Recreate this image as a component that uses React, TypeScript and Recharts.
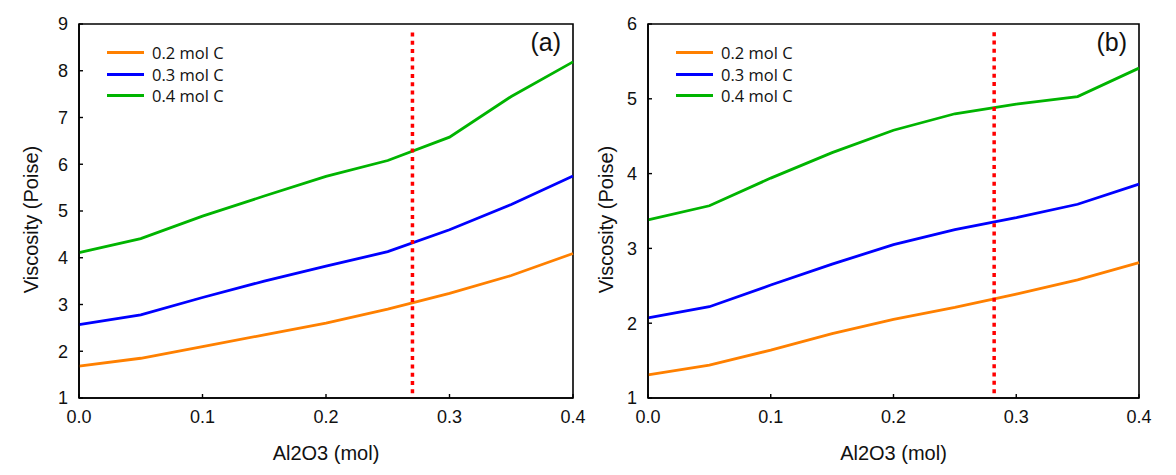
import React from 'react';
import {
  LineChart,
  Line,
  XAxis,
  YAxis,
  ReferenceLine,
  ReferenceArea,
  Legend,
} from 'recharts';

// Al2O3 content (mol), shared by both panels
const alumina = [0, 0.05, 0.1, 0.15, 0.2, 0.25, 0.3, 0.35, 0.4];
const xTicks = [0, 0.1, 0.2, 0.3, 0.4];
const seriesNames = ['0.2 mol C', '0.3 mol C', '0.4 mol C'];

// panel (a)
const aLow = [1.68, 1.85, 2.1, 2.35, 2.6, 2.9, 3.24, 3.62, 4.09];
const aMid = [2.57, 2.78, 3.15, 3.5, 3.82, 4.13, 4.6, 5.14, 5.75];
const aHigh = [4.11, 4.41, 4.89, 5.32, 5.74, 6.08, 6.58, 7.45, 8.19];
const aYTicks = [1, 2, 3, 4, 5, 6, 7, 8, 9];
const aMarker = { x: 0.27, top: 8.82 };

// panel (b)
const bLow = [1.31, 1.44, 1.64, 1.86, 2.05, 2.21, 2.39, 2.58, 2.81];
const bMid = [2.07, 2.22, 2.51, 2.79, 3.05, 3.25, 3.41, 3.59, 3.86];
const bHigh = [3.38, 3.57, 3.94, 4.28, 4.58, 4.8, 4.93, 5.03, 5.41];
const bYTicks = [1, 2, 3, 4, 5, 6];
const bMarker = { x: 0.282, top: 5.89 };

const colors = ['#ff8000', '#0000ff', '#00b400'];
const axisFont = '"Liberation Sans", Arial, sans-serif';
const legendFont = '"Open Sans", "Noto Sans", sans-serif';

function buildRows(low: number[], mid: number[], high: number[]) {
  return alumina.map((x, i) => ({ x, low: low[i], mid: mid[i], high: high[i] }));
}

function LegendBox() {
  return (
    <div style={{ fontFamily: legendFont, fontSize: 16.5, color: '#111' }}>
      {seriesNames.map((name, i) => (
        <div key={name} style={{ display: 'flex', alignItems: 'center', height: 21.5 }}>
          <div style={{ width: 37, height: 3, background: colors[i], marginRight: 8 }} />
          <span>{name}</span>
        </div>
      ))}
    </div>
  );
}

interface PanelProps {
  left: number;
  width: number;
  plotLeft: number;
  plotRight: number;
  rows: { x: number; low: number; mid: number; high: number }[];
  yTicks: number[];
  marker: { x: number; top: number };
  tag: string;
  yLabelX: number;
}

function Panel({ left, width, plotLeft, plotRight, rows, yTicks, marker, tag, yLabelX }: PanelProps) {
  const yMin = yTicks[0];
  const yMax = yTicks[yTicks.length - 1];
  const plotTop = 24;
  const plotBottom = 398;
  const tickStyle = { fontFamily: axisFont, fontSize: 18, fill: '#111' };
  return (
    <div style={{ position: 'absolute', left, top: 0, width, height: 475 }}>
      <LineChart
        width={width}
        height={475}
        data={rows}
        margin={{ top: plotTop, right: width - plotRight, bottom: 475 - plotBottom - 30, left: plotLeft - 40 }}
      >
        <XAxis
          dataKey="x"
          type="number"
          domain={[0, 0.4]}
          ticks={xTicks}
          tickFormatter={(v: number) => v.toFixed(1)}
          height={30}
          tickSize={-4}
          tickMargin={16}
          tick={tickStyle}
          axisLine={{ stroke: '#000', strokeWidth: 1.6 }}
          tickLine={{ stroke: '#000', strokeWidth: 1.4 }}
        />
        <YAxis
          type="number"
          domain={[yMin, yMax]}
          ticks={yTicks}
          width={40}
          tickSize={-4}
          tickMargin={15}
          tick={tickStyle}
          axisLine={{ stroke: '#000', strokeWidth: 1.6 }}
          tickLine={{ stroke: '#000', strokeWidth: 1.4 }}
        />
        <ReferenceArea x1={0} x2={0.4} y1={yMin} y2={yMax} fill="none" stroke="#000" strokeWidth={1.6} />
        <Legend
          layout="vertical"
          align="center"
          verticalAlign="middle"
          content={() => <LegendBox />}
          wrapperStyle={{ left: plotLeft + 28, top: 42, width: 140, height: 70 }}
        />
        <Line dataKey="low" name={seriesNames[0]} stroke={colors[0]} strokeWidth={2.8} dot={false} type="linear" isAnimationActive={false} />
        <Line dataKey="mid" name={seriesNames[1]} stroke={colors[1]} strokeWidth={2.8} dot={false} type="linear" isAnimationActive={false} />
        <Line dataKey="high" name={seriesNames[2]} stroke={colors[2]} strokeWidth={2.8} dot={false} type="linear" isAnimationActive={false} />
        <ReferenceLine
          segment={[
            { x: marker.x, y: marker.top },
            { x: marker.x, y: yMin },
          ]}
          stroke="#ff0000"
          strokeWidth={3.5}
          strokeDasharray="4 4.3"
        />
      </LineChart>
      <div
        style={{
          position: 'absolute',
          left: plotRight - 56,
          top: 28,
          width: 44,
          textAlign: 'right',
          fontFamily: axisFont,
          fontSize: 25,
          color: '#111',
        }}
      >
        {tag}
      </div>
      <div
        style={{
          position: 'absolute',
          left: (plotLeft + plotRight) / 2 - 100,
          top: 442,
          width: 200,
          textAlign: 'center',
          fontFamily: axisFont,
          fontSize: 20,
          color: '#111',
        }}
      >
        Al2O3 (mol)
      </div>
      <div
        style={{
          position: 'absolute',
          left: yLabelX - 100,
          top: 208,
          width: 200,
          textAlign: 'center',
          fontFamily: axisFont,
          fontSize: 20,
          color: '#111',
          transform: 'rotate(-90deg)',
        }}
      >
        Viscosity (Poise)
      </div>
    </div>
  );
}

export default function App() {
  return (
    <div style={{ position: 'absolute', left: 0, top: 0, width: 1176, height: 475, background: '#fff' }}>
      <Panel
        left={0}
        width={586}
        plotLeft={79}
        plotRight={573}
        rows={buildRows(aLow, aMid, aHigh)}
        yTicks={aYTicks}
        marker={aMarker}
        tag="(a)"
        yLabelX={31}
      />
      <Panel
        left={586}
        width={590}
        plotLeft={62}
        plotRight={553}
        rows={buildRows(bLow, bMid, bHigh)}
        yTicks={bYTicks}
        marker={bMarker}
        tag="(b)"
        yLabelX={20}
      />
    </div>
  );
}
